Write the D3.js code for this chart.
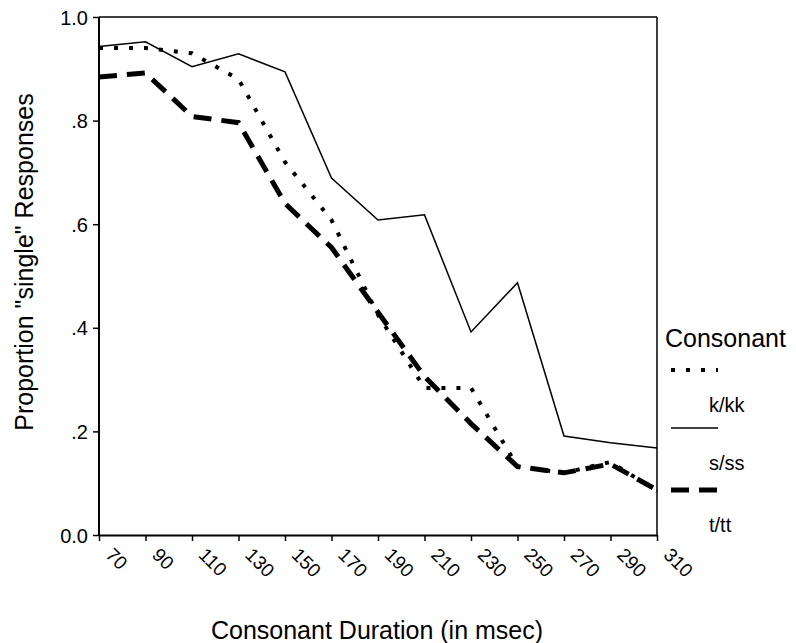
<!DOCTYPE html>
<html lang="en">
<head>
  <meta charset="utf-8">
  <title>consonant duration</title>
  <style>
  * { margin:0; padding:0; }
  body { background:#fff; }
  text { font-family: Arial, "Liberation Sans", sans-serif; fill:#000; }
  </style>
  <script src="https://d3js.org/d3.v7.min.js"></script>
</head>
<body>
  <div id="chart"></div>
  <script type="text/javascript">
  // chart values
  var durations=[70,90,110,130,150,170,190,210,230,250,270,290,310];
  var kkk=[0.94,0.94,0.93,0.88,0.72,0.608,0.425,0.284,0.284,0.132,0.12,0.141,0.085];
  var sss=[0.943,0.952,0.904,0.929,0.894,0.689,0.608,0.618,0.392,0.487,0.191,0.178,0.168];
  var ttt=[0.884,0.892,0.808,0.796,0.64,0.555,0.43,0.306,0.215,0.132,0.12,0.137,0.087];
  var yTicks=[0,0.2,0.4,0.6,0.8,1.0];
  var yTickLabels=["0.0",".2",".4",".6",".8","1.0"];
  var seriesNames=["k/kk","s/ss","t/tt"];

  var w=796, h=643;
  var pl=99, pr=657, pt=17, pb=535;
  var font="Arial, 'Liberation Sans', sans-serif";

  var svg=d3.select("#chart").append("svg")
    .attr("width",w)
    .attr("height",h);

  var x=d3.scalePoint().domain(durations).range([pl,pr]);
  var y=d3.scaleLinear().domain([0,1]).range([pb,pt]);

  // frame top and right
  svg.append("line").attr("x1",pl).attr("x2",pr).attr("y1",pt).attr("y2",pt)
    .attr("stroke","#000").attr("stroke-width",1.5);
  svg.append("line").attr("x1",pr).attr("x2",pr).attr("y1",pt).attr("y2",pb)
    .attr("stroke","#000").attr("stroke-width",1.5);

  // y axis
  var yAxis=svg.append("g")
    .attr("transform","translate("+pl+",0)")
    .call(d3.axisLeft(y).tickValues(yTicks).tickSize(6).tickPadding(5)
      .tickFormat(function(d,i){return yTickLabels[i];}));
  yAxis.select(".domain").attr("stroke-width",2).attr("d","M0,"+pb+"V"+pt);
  yAxis.selectAll(".tick line").attr("stroke-width",1.5);
  yAxis.selectAll("text").style("font-size","20px").attr("dy","0.35em")
    .style("font-family",font);

  // x axis
  var xAxis=svg.append("g")
    .attr("transform","translate(0,"+pb+")")
    .call(d3.axisBottom(x).tickSize(6).tickSizeOuter(0));
  xAxis.select(".domain").attr("stroke-width",2);
  xAxis.selectAll(".tick line").attr("stroke-width",1.5);
  xAxis.selectAll("text")
    .style("font-size","19px")
    .style("font-family",font)
    .attr("text-anchor","start")
    .attr("transform","translate(5,21) rotate(45)")
    .attr("x",0).attr("y",0).attr("dy","0");

  // axis titles
  svg.append("text")
    .attr("x",377).attr("y",639)
    .attr("text-anchor","middle")
    .style("font-size","25px")
    .text("Consonant Duration (in msec)");
  svg.append("text")
    .attr("transform","translate(33,262) rotate(-90)")
    .attr("text-anchor","middle")
    .style("font-size","25px")
    .text('Proportion "single" Responses');

  var styles=[
    {w:4, dash:"4,11"},
    {w:1.5, dash:null},
    {w:5, dash:"18,10"}
  ];
  var series=[kkk,sss,ttt];

  var line=d3.line()
    .x(function(d,i){return x(durations[i]);})
    .y(function(d){return y(d);});

  svg.selectAll(".series")
    .data(series)
    .enter()
    .append("path")
    .attr("class","series")
    .attr("d",line)
    .attr("fill","none")
    .attr("stroke","#000")
    .attr("stroke-width",function(d,i){return styles[i].w;})
    .attr("stroke-dasharray",function(d,i){return styles[i].dash;})
    .attr("stroke-linejoin","miter");

  // legend
  svg.append("text").attr("x",665).attr("y",347)
    .style("font-size","25px").text("Consonant");
  var legendY=[370,428,490];
  seriesNames.forEach(function(name,i){
    svg.append("line")
      .attr("x1",671).attr("x2",718)
      .attr("y1",legendY[i]).attr("y2",legendY[i])
      .attr("stroke","#000")
      .attr("stroke-width",styles[i].w)
      .attr("stroke-dasharray",styles[i].dash);
    svg.append("text").attr("x",709).attr("y",legendY[i]+42)
      .style("font-size","20px").text(name);
  });
  </script>
</body>
</html>
